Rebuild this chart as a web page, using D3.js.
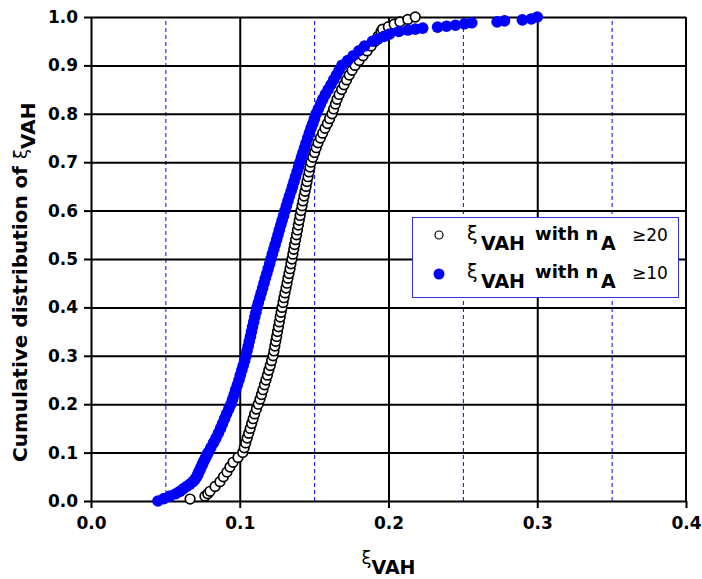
<!DOCTYPE html>
<html><head><meta charset="utf-8">
<script src="https://cdn.jsdelivr.net/npm/d3@7"></script>
<style>body{margin:0;background:#fff}</style>
</head><body><svg id="c" width="702" height="579" xmlns="http://www.w3.org/2000/svg"></svg>
<script>
const xTicks=[0,0.1,0.2,0.3,0.4];
const xTickLabels=["0.0","0.1","0.2","0.3","0.4"];
const xGrid=[0.1,0.2,0.3];
const xMinor=[0.05,0.15,0.25,0.35];
const yTicks=[0,0.1,0.2,0.3,0.4,0.5,0.6,0.7,0.8,0.9,1.0];
const yTickLabels=["0.0","0.1","0.2","0.3","0.4","0.5","0.6","0.7","0.8","0.9","1.0"];
const seriesLabels=["\u226520","\u226510"];

// series 1: xi_VAH with n_A >= 20 (open circles)
const n20X=[0.0666,0.0766,0.0785,0.0800,0.0834,0.0867,0.0890,0.0914,0.0934,0.0955,0.0988,
0.1020,0.1030,0.1040,0.1050,0.1060,0.1070,0.1080,0.1090,0.1100,0.1112,
0.1124,0.1136,0.1146,0.1156,0.1166,0.1176,0.1186,0.1195,0.1205,0.1214,
0.1224,0.1230,0.1236,0.1242,0.1248,0.1254,0.1260,0.1266,0.1272,0.1278,
0.1284,0.1291,0.1297,0.1304,0.1311,0.1318,0.1324,0.1331,0.1338,0.1344,
0.1351,0.1357,0.1363,0.1369,0.1375,0.1382,0.1388,0.1394,0.1400,0.1406,
0.1412,0.1419,0.1425,0.1432,0.1439,0.1446,0.1452,0.1459,0.1466,0.1472,
0.1479,0.1491,0.1503,0.1514,0.1526,0.1542,0.1557,0.1573,0.1589,0.1604,
0.1620,0.1631,0.1643,0.1654,0.1668,0.1685,0.1701,0.1718,0.1736,0.1755,
0.1775,0.1802,0.1829,0.1856,0.1883,0.1910,0.1930,0.1950,
0.1960,0.1999,0.2038,0.2077,0.2130,0.2180];
const n20Y=[0.004,0.01,0.015,0.02,0.03,0.04,0.05,0.06,0.07,0.08,0.09,
0.10,0.11,0.12,0.13,0.14,0.15,0.16,0.17,0.18,0.19,
0.20,0.21,0.22,0.23,0.24,0.25,0.26,0.27,0.28,0.29,
0.30,0.31,0.32,0.33,0.34,0.35,0.36,0.37,0.38,0.39,
0.40,0.41,0.42,0.43,0.44,0.45,0.46,0.47,0.48,0.49,
0.50,0.51,0.52,0.53,0.54,0.55,0.56,0.57,0.58,0.59,
0.60,0.61,0.62,0.63,0.64,0.65,0.66,0.67,0.68,0.69,
0.70,0.71,0.72,0.73,0.74,0.75,0.76,0.77,0.78,0.79,
0.80,0.81,0.82,0.83,0.84,0.85,0.86,0.87,0.88,0.89,
0.90,0.91,0.92,0.93,0.94,0.95,0.96,0.97,
0.975,0.98,0.985,0.99,0.995,1.0];

// series 2: xi_VAH with n_A >= 10 (filled blue)
const n10X=[0.0450,0.0490,0.0531,0.0570,0.0598,0.0620,0.0642,0.0665,0.0686,0.0700,0.0710,0.0718,0.0725,0.0733,0.0740,0.0748,0.0755,0.0763,0.0771,0.0779,
0.0787,0.0805,0.0823,0.0840,0.0856,0.0871,0.0884,0.0898,0.0911,0.0926,
0.0941,0.0952,0.0963,0.0973,0.0984,0.0995,0.1004,0.1014,0.1023,0.1033,
0.1042,0.1049,0.1057,0.1064,0.1072,0.1079,0.1086,0.1094,0.1101,0.1109,
0.1116,0.1125,0.1135,0.1144,0.1154,0.1163,0.1172,0.1182,0.1191,0.1201,
0.1210,0.1219,0.1229,0.1238,0.1248,0.1257,0.1266,0.1276,0.1285,0.1295,
0.1304,0.1314,0.1324,0.1334,0.1345,0.1355,0.1365,0.1375,0.1385,0.1395,
0.1405,0.1415,0.1425,0.1436,0.1446,0.1457,0.1468,0.1479,0.1491,0.1502,
0.1513,0.1528,0.1543,0.1558,0.1575,0.1594,0.1613,0.1631,0.1650,0.1668,
0.1687,0.1725,0.1763,0.1801,0.1839,0.1893,0.1930,0.1970,0.2008,
0.2070,0.2130,0.2180,0.2230,0.2330,0.2390,0.2450,0.2510,0.2560,
0.2730,0.2780,0.2900,0.2960,0.3000];
const n10Y=[0.00,0.005,0.01,0.015,0.02,0.025,0.03,0.035,0.04,0.045,0.05,0.055,0.06,0.065,0.07,0.075,0.08,0.085,0.09,0.095,
0.10,0.11,0.12,0.13,0.14,0.15,0.16,0.17,0.18,0.19,
0.20,0.21,0.22,0.23,0.24,0.25,0.26,0.27,0.28,0.29,
0.30,0.31,0.32,0.33,0.34,0.35,0.36,0.37,0.38,0.39,
0.40,0.41,0.42,0.43,0.44,0.45,0.46,0.47,0.48,0.49,
0.50,0.51,0.52,0.53,0.54,0.55,0.56,0.57,0.58,0.59,
0.60,0.61,0.62,0.63,0.64,0.65,0.66,0.67,0.68,0.69,
0.70,0.71,0.72,0.73,0.74,0.75,0.76,0.77,0.78,0.79,
0.80,0.81,0.82,0.83,0.84,0.85,0.86,0.87,0.88,0.89,
0.90,0.91,0.92,0.93,0.94,0.95,0.955,0.96,0.965,
0.97,0.973,0.975,0.977,0.979,0.981,0.983,0.986,0.988,
0.99,0.992,0.994,0.996,1.0];

const W=702,H=579;
const M={left:91,right:686,top:17,bottom:501};
const FONT="'DejaVu Sans', sans-serif";
const BLUE="#0000ff";

const svg=d3.select("#c");
svg.append("rect").attr("width",W).attr("height",H).attr("fill","#fff");

const x=d3.scaleLinear().domain([0,0.4]).range([M.left,M.right]);
const y=d3.scaleLinear().domain([0,1]).range([M.bottom,M.top]);
const ph=M.bottom-M.top, pw=M.right-M.left;

// dashed blue minor gridlines
const gMinor=svg.append("g").attr("transform",`translate(0,${M.bottom})`)
  .call(d3.axisBottom(x).tickValues(xMinor).tickSize(-ph).tickFormat(""));
gMinor.select(".domain").remove();
gMinor.selectAll("line").attr("stroke",BLUE).attr("stroke-width",1).attr("stroke-dasharray","4,3");

// solid black gridlines
const gxg=svg.append("g").attr("transform",`translate(0,${M.bottom})`)
  .call(d3.axisBottom(x).tickValues(xGrid).tickSize(-ph).tickFormat(""));
gxg.select(".domain").remove();
gxg.selectAll("line").attr("stroke","#000").attr("stroke-width",2);
const gyg=svg.append("g").attr("transform",`translate(${M.left},0)`)
  .call(d3.axisLeft(y).tickValues(yTicks.slice(1)).tickSize(-pw).tickFormat(""));
gyg.select(".domain").remove();
gyg.selectAll("line").attr("stroke","#000").attr("stroke-width",2);
// right border
svg.append("line").attr("x1",x(0.4)).attr("x2",x(0.4)).attr("y1",y(0)).attr("y2",y(1))
  .attr("stroke","#000").attr("stroke-width",2);

// axes
const gx=svg.append("g").attr("transform",`translate(0,${M.bottom})`)
  .call(d3.axisBottom(x).tickValues(xTicks).tickFormat((d,i)=>xTickLabels[i]).tickSize(7).tickPadding(9).tickSizeOuter(0));
gx.select(".domain").attr("stroke","#000").attr("stroke-width",2);
gx.selectAll("line").attr("stroke","#000").attr("stroke-width",2);
gx.selectAll("text").attr("font-family",FONT).attr("font-size",17).attr("font-weight","bold").attr("fill","#000");

const gy=svg.append("g").attr("transform",`translate(${M.left},0)`)
  .call(d3.axisLeft(y).tickValues(yTicks).tickFormat((d,i)=>yTickLabels[i]).tickSize(7).tickPadding(6).tickSizeOuter(0));
gy.select(".domain").attr("stroke","#000").attr("stroke-width",2);
gy.selectAll("line").attr("stroke","#000").attr("stroke-width",2);
gy.selectAll("text").attr("font-family",FONT).attr("font-size",17).attr("font-weight","bold").attr("fill","#000");

// series
const d20=n20X.map((v,i)=>({x:v,y:n20Y[i]}));
const d10=n10X.map((v,i)=>({x:v,y:n10Y[i]}));
svg.append("g").selectAll("circle").data(d20).join("circle")
  .attr("cx",d=>x(d.x)).attr("cy",d=>y(d.y)).attr("r",4.8)
  .attr("fill","#fff").attr("stroke","#000").attr("stroke-width",1.7);
svg.append("g").selectAll("circle").data(d10).join("circle")
  .attr("cx",d=>x(d.x)).attr("cy",d=>y(d.y)).attr("r",5.8)
  .attr("fill",BLUE);

// legend
const lg=svg.append("g");
lg.append("rect").attr("x",412.5).attr("y",217.5).attr("width",266).attr("height",80)
  .attr("fill","#fff").attr("stroke","#3333dd").attr("stroke-width",1);
seriesLabels.forEach((lab,i)=>{
  const cy=235+i*38, by=240+i*38;
  if(i===0) lg.append("circle").attr("cx",439).attr("cy",cy).attr("r",4).attr("fill","#fff").attr("stroke","#000").attr("stroke-width",1.2);
  else lg.append("circle").attr("cx",439).attr("cy",cy+1).attr("r",5.5).attr("fill",BLUE);
  lg.append("text").attr("x",467).attr("y",by).attr("font-family",FONT).attr("font-size",19).text("\u03be");
  lg.append("text").attr("x",481).attr("y",by+10).attr("font-family",FONT).attr("font-size",19).attr("font-weight","bold").text("VAH");
  lg.append("text").attr("x",535).attr("y",by).attr("font-family",FONT).attr("font-size",18).attr("font-weight","bold").text("with n");
  lg.append("text").attr("x",601).attr("y",by+10).attr("font-family",FONT).attr("font-size",19).attr("font-weight","bold").text("A");
  lg.append("text").attr("x",632).attr("y",by+1).attr("font-family",FONT).attr("font-size",17).text(lab);
});

// x title
const xt=svg.append("text").attr("x",(M.left+M.right)/2).attr("y",564).attr("text-anchor","middle")
  .attr("font-family",FONT);
xt.append("tspan").attr("font-size",18).text("\u03be");
xt.append("tspan").attr("font-size",19).attr("font-weight","bold").attr("dy",10).text("VAH");

// y title
const yt=svg.append("text").attr("transform","translate(27,462) rotate(-90)")
  .attr("font-family",FONT).attr("font-weight","bold").attr("font-size",20);
yt.append("tspan").text("Cumulative distribution of ");
yt.append("tspan").attr("font-weight","normal").attr("font-size",18).text("\u03be");
yt.append("tspan").attr("font-size",20).attr("dy",8).text("VAH");
</script></body></html>
